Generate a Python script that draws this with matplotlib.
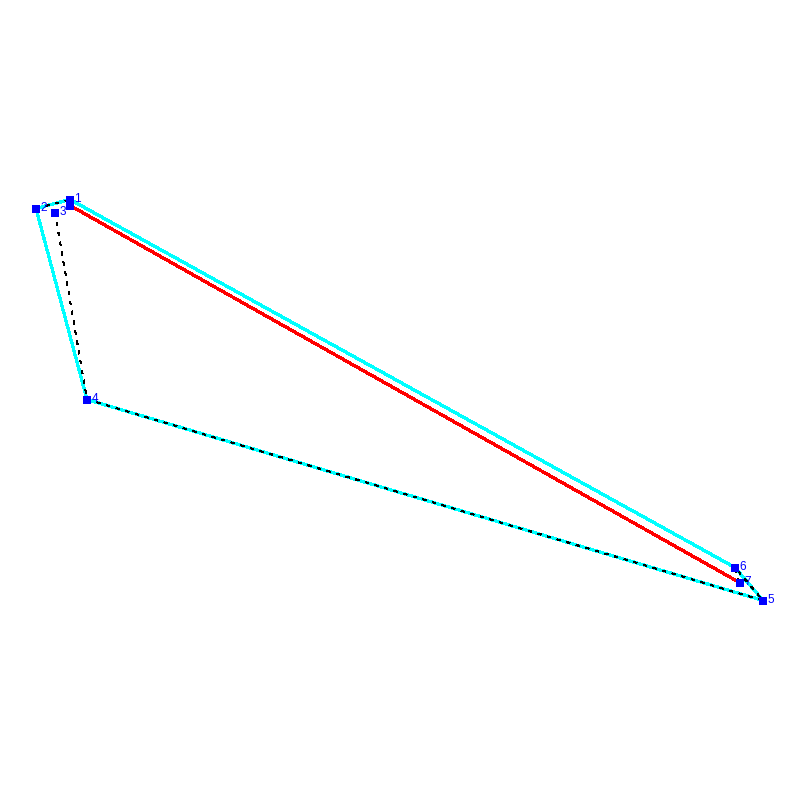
import matplotlib
matplotlib.use("Agg")
import matplotlib.pyplot as plt

plt.rcParams['font.family'] = ['Liberation Sans', 'DejaVu Sans']
plt.rcParams['lines.scale_dashes'] = False

# Node positions
node_labels = ["1", "2", "3", "4", "5", "6", "7"]
node_x = [70.0, 36.0, 55.0, 87.0, 763.0, 735.0, 739.5]
node_y = [199.5, 208.5, 212.5, 399.5, 600.5, 567.5, 582.5]

# Unlabelled node under node 1, where the red segment starts
extra_x = [70.0]
extra_y = [205.5]

hull_order = [0, 5, 4, 3, 1, 0]
dashed_a = [1, 0]
dashed_b = [2, 3, 4, 5, 6]

fig = plt.figure(figsize=(8, 8), dpi=100)
ax = fig.add_axes([0, 0, 1, 1])
ax.set_xlim(0, 800)
ax.set_ylim(800, 0)
ax.axis("off")

ax.plot([node_x[i] for i in hull_order], [node_y[i] for i in hull_order],
        color="#00ffff", lw=1.6, antialiased=False, zorder=1, solid_joinstyle="miter")
ax.plot([extra_x[0], node_x[6]], [extra_y[0], node_y[6]],
        color="#ff0000", lw=1.6, antialiased=False, zorder=2)
for seq in (dashed_a, dashed_b):
    ax.plot([node_x[i] for i in seq], [node_y[i] for i in seq],
            color="black", lw=0.5, dashes=(2.5, 4.5), antialiased=False, zorder=3)

ax.plot(node_x + extra_x, node_y + extra_y, ls="none", marker="s", ms=5.4, mew=0,
        color="#0000ff", antialiased=False, zorder=4)
for label, x, y in zip(node_labels, node_x, node_y):
    ax.text(x + 4.5, y - 0.5, label, color="#0000ff", fontsize=8.5, ha="left", va="center", zorder=5)

fig.savefig("out.png", dpi=100, facecolor="white")
